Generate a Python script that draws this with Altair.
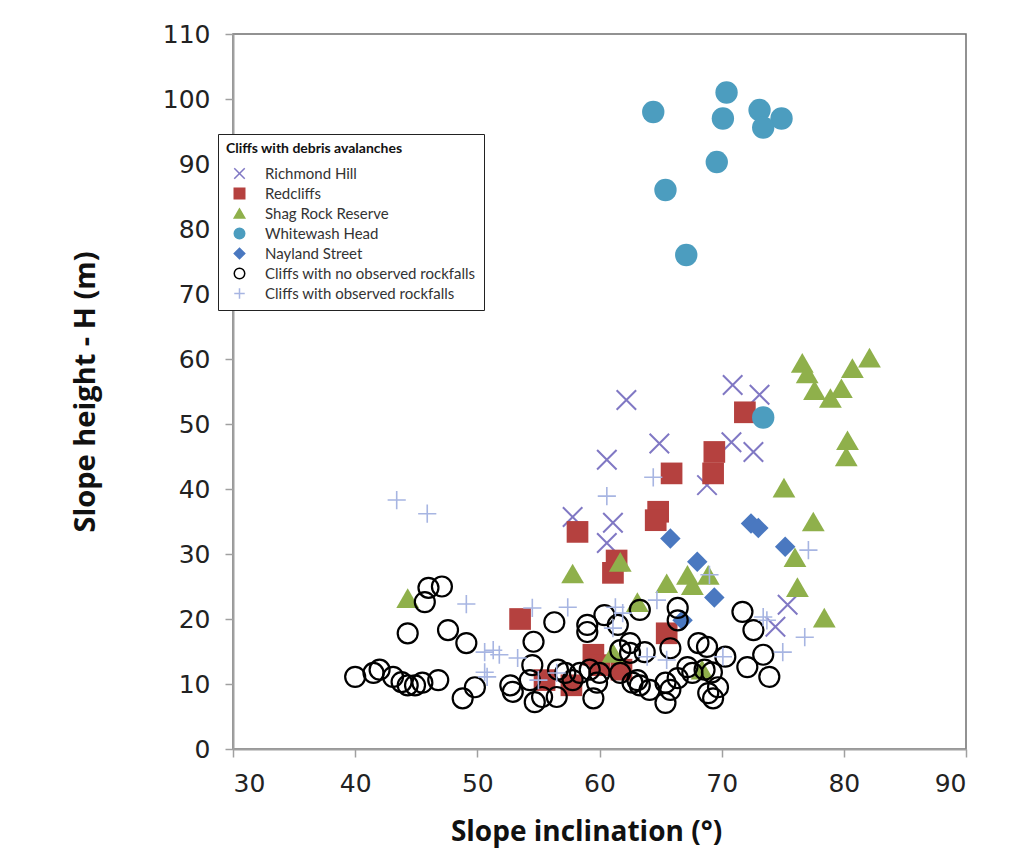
import altair as alt
import pandas as pd

# ---- data ----
richmond_x = [62.2, 70.9, 73.1, 64.9, 70.8, 72.6, 60.6, 68.8, 57.8, 61.1, 60.6, 75.4, 74.4]
richmond_y = [53.7, 56.0, 54.5, 47.0, 47.2, 45.7, 44.5, 40.6, 35.7, 34.8, 31.7, 22.2, 18.8]

redcliffs_x = [71.9, 69.4, 69.3, 65.9, 64.8, 64.6, 58.2, 61.4, 61.1, 53.5, 65.5, 59.5, 60.0, 61.8, 55.5, 57.7]
redcliffs_y = [51.8, 45.7, 42.4, 42.4, 36.5, 35.2, 33.4, 29.0, 27.1, 20.0, 17.8, 14.5, 12.9, 12.2, 10.6, 9.8]

shag_x = [76.6, 77.0, 77.6, 78.9, 79.8, 80.7, 82.1, 80.3, 80.2, 75.1, 77.5, 76.0, 76.2, 78.4,
          57.8, 61.7, 65.5, 67.6, 67.2, 68.9, 63.1, 44.3, 68.4, 61.1]
shag_y = [59.4, 57.8, 55.2, 54.0, 55.5, 58.6, 60.2, 47.5, 45.0, 40.2, 35.0, 29.5, 24.9, 20.2,
          27.0, 28.8, 25.5, 25.2, 26.8, 26.8, 22.6, 23.2, 12.2, 14.8]

whitewash_x = [64.4, 70.4, 70.1, 73.1, 74.9, 73.4, 69.6, 65.4, 67.1, 73.4]
whitewash_y = [98.0, 101.0, 97.0, 98.3, 97.0, 95.6, 90.3, 86.0, 76.0, 51.0]

nayland_x = [72.4, 73.0, 75.2, 65.8, 68.0, 69.4, 66.8]
nayland_y = [34.7, 34.0, 31.1, 32.4, 28.8, 23.3, 19.8]

norock_x = [46.0, 47.1, 45.7, 44.3, 47.6, 49.1, 40.0, 41.5, 42.0, 43.1, 43.8, 44.3, 44.9, 45.5, 46.8,
            48.8, 49.8,
            56.3, 54.6, 59.0, 59.0, 60.4, 61.5, 54.5, 52.7, 52.9, 54.3, 54.7, 55.3, 56.6, 57.2, 56.5,
            57.8, 58.4, 59.2, 59.8, 59.5, 60.0, 61.7, 62.5, 62.7, 61.7, 63.1,
            63.3, 66.4, 66.4, 71.7, 72.6, 62.5, 63.7, 65.8, 68.1, 68.8, 70.3, 73.4, 72.1, 73.9, 67.2,
            68.6, 69.2, 63.3, 64.1, 65.4, 65.8, 66.4, 65.4, 67.6, 68.9, 69.3, 69.7]
norock_y = [24.8, 25.0, 22.6, 17.8, 18.3, 16.3, 11.1, 11.7, 12.2, 11.1, 10.3, 9.8, 9.8, 10.2, 10.6,
            7.8, 9.5,
            19.5, 16.5, 19.1, 18.0, 20.6, 19.1, 12.9, 9.8, 8.8, 10.6, 7.2, 8.0, 12.2, 11.7, 8.0,
            10.6, 11.7, 12.2, 10.2, 7.8, 11.7, 15.2, 14.8, 10.2, 11.7, 10.6,
            21.4, 21.7, 19.8, 21.1, 18.3, 16.3, 14.9, 15.5, 16.3, 15.7, 14.2, 14.5, 12.6, 11.1, 12.6,
            12.2, 11.8, 9.8, 9.1, 10.2, 9.1, 10.9, 7.1, 11.7, 8.6, 7.8, 9.5]

rock_x = [43.4, 45.9, 49.1, 50.6, 50.6, 51.3, 51.8, 50.8, 53.3, 54.5, 57.4, 61.3, 61.9, 61.1,
          55.0, 56.5, 60.6, 64.4, 64.7, 70.1, 75.0, 76.8, 73.7, 65.5, 63.9, 77.1, 73.4, 69.0]
rock_y = [38.3, 36.2, 22.3, 14.9, 11.8, 15.2, 14.5, 11.1, 14.0, 21.7, 21.8, 21.8, 20.9, 18.6,
          10.6, 11.7, 38.9, 41.8, 22.9, 14.2, 14.9, 17.2, 19.8, 13.7, 14.2, 30.6, 20.3, 26.8]

series_names = ["Richmond Hill", "Redcliffs", "Shag Rock Reserve", "Whitewash Head",
                "Nayland Street", "Cliffs with no observed rockfalls",
                "Cliffs with observed rockfalls"]
series_data = [(richmond_x, richmond_y), (redcliffs_x, redcliffs_y), (shag_x, shag_y),
               (whitewash_x, whitewash_y), (nayland_x, nayland_y), (norock_x, norock_y),
               (rock_x, rock_y)]

# ---- styles ----
X_PATH = "M-1,-1L1,1M1,-1L-1,1"
PLUS_PATH = "M-1,0L1,0M0,-1L0,1"
shapes = [X_PATH, "square", "triangle-up", "circle", "diamond", "circle", PLUS_PATH]
strokes = ["#8078c4", "#b5413f", "#8fb04b", "#4c9dbf", "#4a78c0", "#000000", "#a7b5e2"]
fills = ["transparent", "#b5413f", "#8fb04b", "#4c9dbf", "#4a78c0", "transparent", "transparent"]
sizes = [380, 470, 520, 500, 420, 400, 330]
widths = [2.0, 0.0, 0.0, 0.0, 0.0, 2.2, 1.6]

rows = []
for i, (name, (xs, ys)) in enumerate(zip(series_names, series_data)):
    for x, y in zip(xs, ys):
        rows.append({"series": name, "incl": x, "height": y,
                     "sz": sizes[i], "sw": widths[i]})
df = pd.DataFrame(rows)

LEG_TITLE = "Cliffs with debris avalanches"

chart = alt.Chart(df).mark_point(opacity=1, filled=False).encode(
    x=alt.X("incl:Q", title="Slope inclination (°)",
            scale=alt.Scale(domain=[30, 90], nice=False),
            axis=alt.Axis(values=list(range(30, 91, 10)), titleX=353)),
    y=alt.Y("height:Q", title="Slope height - H (m)",
            scale=alt.Scale(domain=[0, 110], nice=False),
            axis=alt.Axis(values=list(range(0, 111, 10)))),
    shape=alt.Shape("series:N", scale=alt.Scale(domain=series_names, range=shapes),
                    title=LEG_TITLE),
    stroke=alt.Stroke("series:N", scale=alt.Scale(domain=series_names, range=strokes),
                      title=LEG_TITLE),
    fill=alt.Fill("series:N", scale=alt.Scale(domain=series_names, range=fills),
                  title=LEG_TITLE),
    size=alt.Size("sz:Q", scale=None),
    strokeWidth=alt.StrokeWidth("sw:Q", scale=None),
).properties(
    width=733, height=715,
    autosize=alt.AutoSizeParams(type="none"),
    padding={"left": 225, "top": 26, "right": 40, "bottom": 100},
).configure_view(
    stroke="#6f6f6f", strokeWidth=1.5
).configure_axis(
    grid=False,
    domainColor="#a0a0a0", domainWidth=2,
    tickColor="#a0a0a0", tickSize=8, tickWidth=1.5,
    labelFont="DejaVu Sans", labelFontSize=25, labelColor="#222222",
    titleFont="Open Sans", titleFontSize=28, titleFontWeight="bold", titleColor="#111111",
).configure_axisY(
    labelPadding=15, titlePadding=62, titleFontSize=29
).configure_axisX(
    labelPadding=14, titlePadding=22
).configure_legend(
    orient="none", legendX=-15, legendY=100,
    strokeColor="#222222", fillColor="white", padding=8,
    titleFont="Lato", titleFontSize=14, titleFontWeight="bold", titleColor="#111111",
    titlePadding=10, titleLimit=400,
    labelFont="Lato", labelFontSize=15, labelColor="#333333", labelLimit=400,
    symbolSize=110, symbolStrokeWidth=1.5, rowPadding=3, labelOffset=18,
    symbolOffset=6,
)

chart.save("out.html", embed_options={"renderer": "svg", "actions": False})
